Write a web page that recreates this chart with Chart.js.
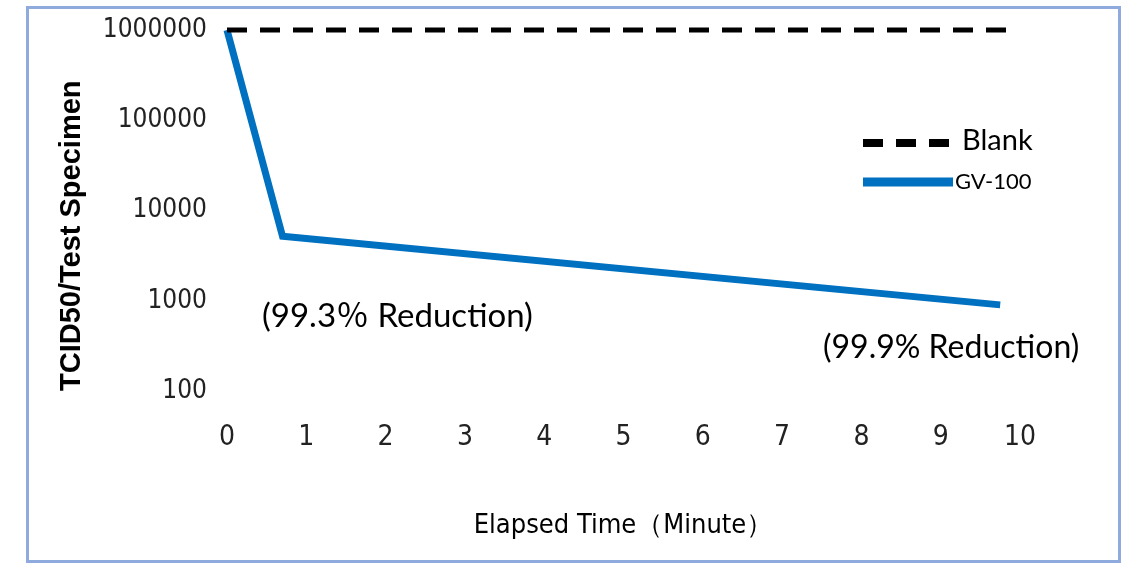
<!DOCTYPE html>
<html>
<head>
<meta charset="utf-8">
<script src="https://cdn.jsdelivr.net/npm/chart.js@4.4.1/dist/chart.umd.min.js"></script>
<style>
    html, body { margin: 0; padding: 0; background: #fff; }
    #wrap { position: relative; width: 1125px; height: 563px; }
    #frame {
        position: absolute; left: 26px; top: 6px; width: 1089px; height: 551px;
        border: 3px solid #8faadc; pointer-events: none;
    }
</style>
</head>
<body>
<div id="wrap">
    <canvas id="chart" width="1125" height="563"></canvas>
    <div id="frame"></div>
</div>
<script>
// Chart data
const blankTimes = [0, 9.85];
const blankValues = [1000000, 1000000];
const gvTimes = [0, 0.7, 9.75];
const gvValues = [1000000, 5200, 900];
const yTickValues = [100, 1000, 10000, 100000, 1000000];
const xTickValues = [0, 1, 2, 3, 4, 5, 6, 7, 8, 9, 10];
const seriesNames = ['Blank', 'GV-100'];
const notes = ['(99.3％ Reduction)', '(99.9% Reduction)'];

const narrowFont = '"DejaVu Sans Condensed", "DejaVu Sans", sans-serif';

function toPoints(xs, ys) {
    return xs.map((x, i) => ({ x: x, y: ys[i] }));
}

// Legend drawn inside the plot, like the original
const innerLegend = {
    id: 'innerLegend',
    afterDraw(chart) {
        const ctx = chart.ctx;
        const ds = chart.data.datasets;
        ctx.save();
        // Blank
        ctx.strokeStyle = ds[0].borderColor;
        ctx.lineWidth = 8;
        ctx.setLineDash([20, 13]);
        ctx.beginPath();
        ctx.moveTo(863, 143);
        ctx.lineTo(949, 143);
        ctx.stroke();
        ctx.setLineDash([]);
        ctx.fillStyle = '#000';
        ctx.textBaseline = 'middle';
        ctx.font = '29px Lato';
        ctx.fillText(ds[0].label, 962, 141);
        // GV-100
        ctx.strokeStyle = ds[1].borderColor;
        ctx.lineWidth = 9;
        ctx.beginPath();
        ctx.moveTo(863, 182);
        ctx.lineTo(953, 182);
        ctx.stroke();
        ctx.font = '22px Lato';
        ctx.fillText(ds[1].label, 955, 182);
        ctx.restore();
    }
};

// Reduction notes
const reductionNotes = {
    id: 'reductionNotes',
    afterDraw(chart) {
        const ctx = chart.ctx;
        ctx.save();
        ctx.fillStyle = '#000';
        ctx.textBaseline = 'middle';
        ctx.textAlign = 'left';
        ctx.font = '33px Lato, "Noto Sans CJK JP"';
        ctx.fillText(notes[0], 262, 316);
        ctx.font = '32px Lato';
        ctx.fillText(notes[1], 823, 348);
        ctx.restore();
    }
};

new Chart(document.getElementById('chart'), {
    type: 'line',
    data: {
        datasets: [
            {
                label: seriesNames[0],
                data: toPoints(blankTimes, blankValues),
                borderColor: '#000000',
                borderWidth: 5,
                borderDash: [20, 13],
                pointRadius: 0,
                fill: false
            },
            {
                label: seriesNames[1],
                data: toPoints(gvTimes, gvValues),
                borderColor: '#0070c0',
                borderWidth: 7,
                borderJoinStyle: 'miter',
                pointRadius: 0,
                fill: false
            }
        ]
    },
    options: {
        responsive: false,
        animation: false,
        clip: false,
        layout: {
            padding: { top: 30, right: 105, bottom: 0, left: 0 }
        },
        plugins: {
            legend: { display: false },
            tooltip: { enabled: false }
        },
        scales: {
            x: {
                type: 'linear',
                min: 0,
                max: 10,
                afterBuildTicks: function(scale) {
                    scale.ticks = xTickValues.map(v => ({ value: v }));
                },
                afterFit: function(scale) {
                    scale.height = 172;
                },
                grid: { display: false, drawTicks: false },
                border: { display: false },
                ticks: {
                    padding: 30,
                    color: '#222',
                    maxRotation: 0,
                    font: { family: narrowFont, size: 28 }
                },
                title: {
                    display: true,
                    text: 'Elapsed Time（Minute）',
                    color: '#000',
                    font: { family: narrowFont, size: 27 },
                    padding: { top: 0, bottom: 21 }
                }
            },
            y: {
                type: 'logarithmic',
                min: 100,
                max: 1000000,
                afterBuildTicks: function(scale) {
                    scale.ticks = yTickValues.map(v => ({ value: v }));
                },
                afterFit: function(scale) {
                    // fixed axis box so the plot sits where the original does
                    scale.width = 227;
                    scale.paddingTop = 10;
                    scale.paddingBottom = 10;
                },
                grid: { display: false, drawTicks: false },
                border: { display: false },
                ticks: {
                    padding: 20,
                    color: '#222',
                    font: { family: narrowFont, size: 26 },
                    callback: function(value) {
                        return String(value);
                    }
                },
                title: {
                    display: true,
                    text: 'TCID50/Test Specimen',
                    align: 'start',
                    color: '#000',
                    font: { family: '"Liberation Sans", Arial, sans-serif', size: 29, weight: 'bold' },
                    padding: { top: 55, bottom: 0 }
                }
            }
        }
    },
    plugins: [innerLegend, reductionNotes]
});
</script>
</body>
</html>
